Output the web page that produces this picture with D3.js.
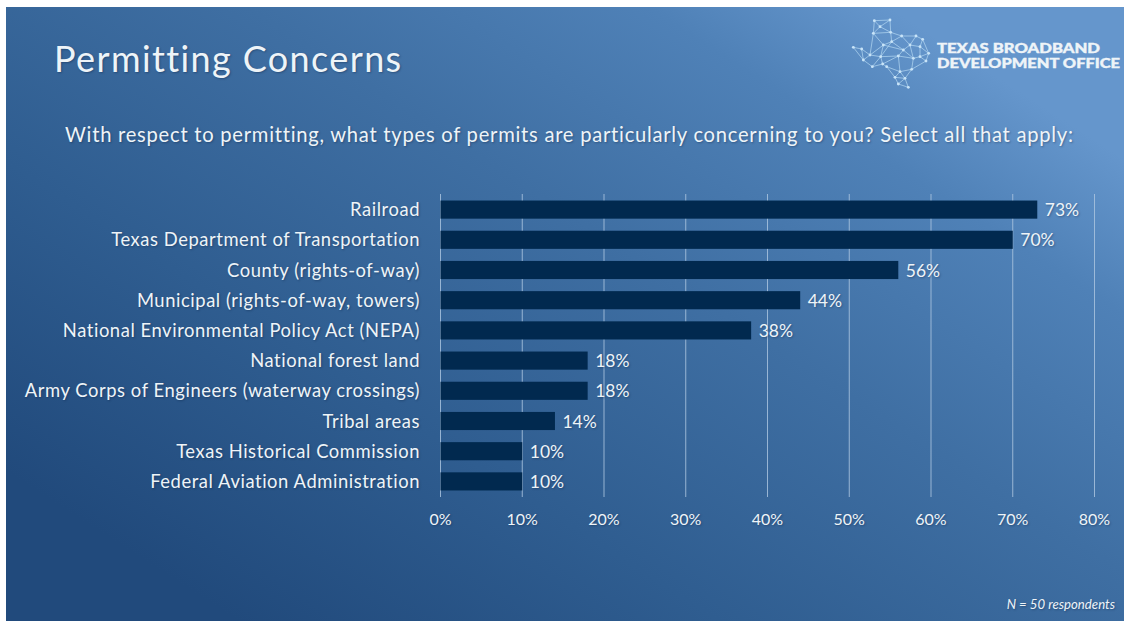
<!DOCTYPE html>
<html><head><meta charset="utf-8">
<script src="https://cdn.jsdelivr.net/npm/d3@7"></script>
<style>
html,body{margin:0;padding:0;background:#fff}
svg{display:block}
text{font-family:Lato,"Open Sans",sans-serif;fill:#eef4f8;text-shadow:1px 1px 2px rgba(10,30,60,.35);font-variant-ligatures:none}
</style></head><body>
<div id="chart"></div>
<script>
const categories=["Railroad","Texas Department of Transportation","County (rights-of-way)","Municipal (rights-of-way, towers)","National Environmental Policy Act (NEPA)","National forest land","Army Corps of Engineers (waterway crossings)","Tribal areas","Texas Historical Commission","Federal Aviation Administration"];
const values=[73,70,56,44,38,18,18,14,10,10];
const xTicks=[0,10,20,30,40,50,60,70,80];
const titleText="Permitting Concerns";
const questionText="With respect to permitting, what types of permits are particularly concerning to you? Select all that apply:";
const noteText="N = 50 respondents";
const logoLines=["TEXAS BROADBAND","DEVELOPMENT OFFICE"];
const logoNodes=[[103,62],[150,60],[100,100],[152,97],[120,80],[185,108],[228,108],[248,118],[266,160],[258,183],[240,170],[215,208],[180,215],[165,232],[175,252],[205,262],[122,170],[90,165],[65,147],[40,142],[70,180],[97,200],[128,192],[175,168],[130,135],[210,135],[240,140],[190,150],[155,125],[140,200],[220,175],[195,235]];
const logoLinks=[[0,1],[0,2],[0,4],[1,3],[1,4],[2,4],[2,3],[3,4],[2,24],[3,28],[3,5],[5,6],[6,7],[7,8],[8,9],[9,11],[8,10],[9,10],[10,30],[10,26],[7,26],[6,25],[5,25],[5,28],[28,24],[28,27],[27,25],[25,26],[26,8],[24,16],[24,17],[17,16],[17,18],[18,19],[19,20],[18,20],[20,17],[20,21],[21,16],[16,22],[21,22],[22,29],[29,13],[29,12],[22,23],[16,23],[23,27],[23,30],[30,11],[23,12],[12,11],[12,13],[13,14],[14,15],[15,31],[31,11],[31,13],[31,12],[14,31],[27,24],[27,30],[30,25],[2,17],[16,28]];

const W=1124,H=621;
const svg=d3.select("#chart").append("svg").attr("width",W).attr("height",H);
const defs=svg.append("defs");
const bg=defs.append("linearGradient").attr("id","bg").attr("gradientUnits","userSpaceOnUse")
  .attr("x1",330).attr("y1",680).attr("x2",800).attr("y2",-50);
[[0,"#214a7c"],[.3,"#2f5d90"],[.6,"#3f6fa3"],[.85,"#4f81b7"],[1,"#6596cc"]].forEach(s=>bg.append("stop").attr("offset",s[0]).attr("stop-color",s[1]));
defs.append("filter").attr("id","soft").append("feGaussianBlur").attr("stdDeviation",.4);

svg.append("rect").attr("x",6).attr("y",7).attr("width",W-6).attr("height",H-7).attr("fill","url(#bg)");

svg.append("text").attr("x",54).attr("y",72).attr("font-size",36).attr("letter-spacing",1.38).text(titleText);
svg.append("text").attr("x",65).attr("y",142).attr("font-size",20.2).attr("textLength",1008).attr("lengthAdjust","spacing").text(questionText);

const x=d3.scaleLinear().domain([0,80]).range([440.5,1094.5]);
const y=d3.scaleBand().domain(categories).range([194.5,496.5]).paddingInner(.4).paddingOuter(.2);

// gridlines
svg.append("g").selectAll("line").data(xTicks).join("line")
  .attr("x1",d=>x(d)).attr("x2",d=>x(d)).attr("y1",194).attr("y2",497)
  .attr("stroke","#a9c3de").attr("stroke-opacity",.85).attr("stroke-width",1);

// bars
svg.append("g").selectAll("rect").data(categories).join("rect")
  .attr("x",x(0)).attr("y",d=>y(d)).attr("height",y.bandwidth())
  .attr("width",(d,i)=>x(values[i])-x(0)).attr("fill","#01294f");

// value labels
svg.append("g").selectAll("text").data(categories).join("text")
  .attr("x",(d,i)=>x(values[i])+7.5).attr("y",d=>y(d)+y.bandwidth()/2+.5).attr("dy",".35em")
  .attr("font-size",17.5).text((d,i)=>values[i]+"%");

// category labels
svg.append("g").selectAll("text").data(categories).join("text")
  .attr("x",420).attr("y",d=>y(d)+y.bandwidth()/2+.5).attr("dy",".33em").attr("text-anchor","end")
  .attr("font-size",18.4).attr("letter-spacing",.56).text(d=>d);

// x axis labels
svg.append("g").selectAll("text").data(xTicks).join("text")
  .attr("x",d=>x(d)).attr("y",525).attr("text-anchor","middle").attr("font-size",16).text(d=>d+"%");

svg.append("text").attr("x",1115).attr("y",609).attr("text-anchor","end").attr("font-size",13.2).attr("font-style","italic").text(noteText);

// logo
const lx=v=>840+v/3, ly=v=>v/3;
const logo=svg.append("g").attr("filter","url(#soft)");
logo.selectAll("line").data(logoLinks).join("line")
  .attr("x1",d=>lx(logoNodes[d[0]][0])).attr("y1",d=>ly(logoNodes[d[0]][1]))
  .attr("x2",d=>lx(logoNodes[d[1]][0])).attr("y2",d=>ly(logoNodes[d[1]][1]))
  .attr("stroke","#b4d8f2").attr("stroke-width",.7);
logo.selectAll("circle").data(logoNodes).join("circle")
  .attr("cx",d=>lx(d[0])).attr("cy",d=>ly(d[1])).attr("r",1.4).attr("fill","#c8e4f8");
svg.append("g").selectAll("text").data(logoLines).join("text")
  .attr("x",937).attr("y",(d,i)=>53+i*15).attr("font-size",13.5).attr("font-weight",900)
  .attr("textLength",(d,i)=>i?183:163).attr("lengthAdjust","spacingAndGlyphs")
  .attr("stroke","#eef4f8").attr("stroke-width",.4)
  .style("text-shadow","none").text(d=>d);
</script></body></html>
